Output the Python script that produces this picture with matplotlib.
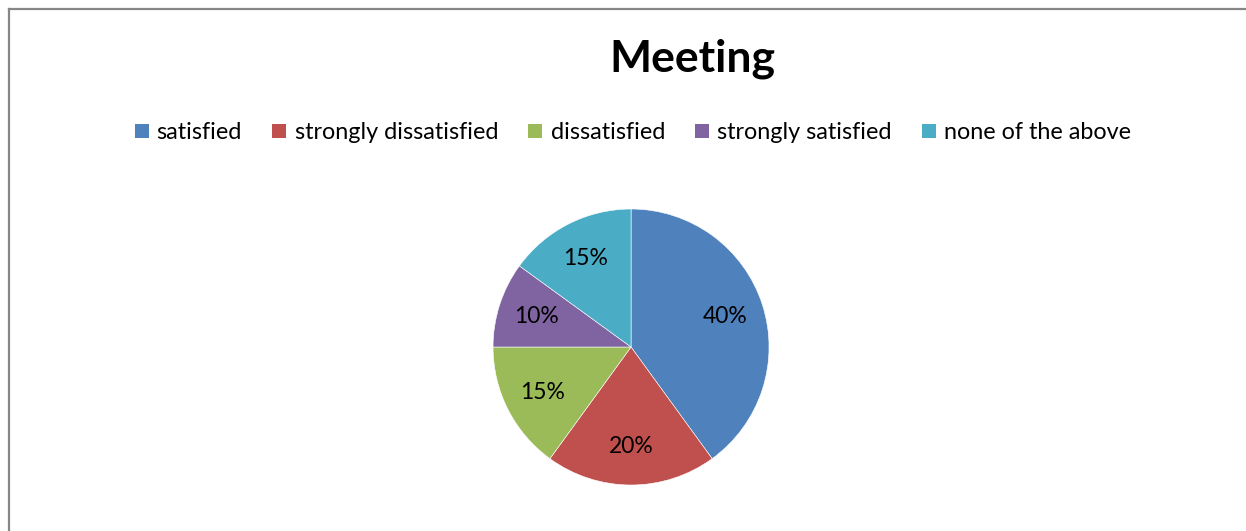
import matplotlib.pyplot as plt
from matplotlib.patches import Patch
from matplotlib.lines import Line2D

labels = ['satisfied', 'strongly dissatisfied', 'dissatisfied', 'strongly satisfied', 'none of the above']
values = [40, 20, 15, 10, 15]
colors = ['#4F81BD', '#C0504D', '#9BBB59', '#8064A2', '#4BACC6']

plt.rcParams['font.family'] = ['Lato', 'DejaVu Sans']

fig = plt.figure(figsize=(12.46, 5.31), dpi=100)

# pie
ax = fig.add_axes([0.3957, 0.0866, 0.2215, 0.5198])
ax.pie(values, colors=colors, startangle=90, counterclock=False,
       autopct='%d%%', pctdistance=0.72, radius=1,
       wedgeprops=dict(edgecolor='white', linewidth=0.4),
       textprops=dict(fontsize=16.5, color='black'))
ax.set_xlim(-1, 1)
ax.set_ylim(-1, 1)
ax.set_aspect('equal')
ax.axis('off')

fig.text(0.556, 0.889, 'Meeting', ha='center', va='center',
         fontsize=32, fontweight='bold')

handles = [Patch(facecolor=c, edgecolor='none') for c in colors]
fig.legend(handles, labels, loc='center', bbox_to_anchor=(0.508, 0.75),
           ncol=5, frameon=False, fontsize=16.8, handlelength=0.6,
           handleheight=0.6, handletextpad=0.35, columnspacing=1.3)

# chart border (left and top)
fig.add_artist(Line2D([0.0072, 0.0072], [0, 0.983], color='#868686', lw=1.6,
                      transform=fig.transFigure, solid_capstyle='projecting'))
fig.add_artist(Line2D([0.0072, 1], [0.983, 0.983], color='#868686', lw=1.6,
                      transform=fig.transFigure))

fig.savefig('out.png', dpi=100, facecolor='white')
